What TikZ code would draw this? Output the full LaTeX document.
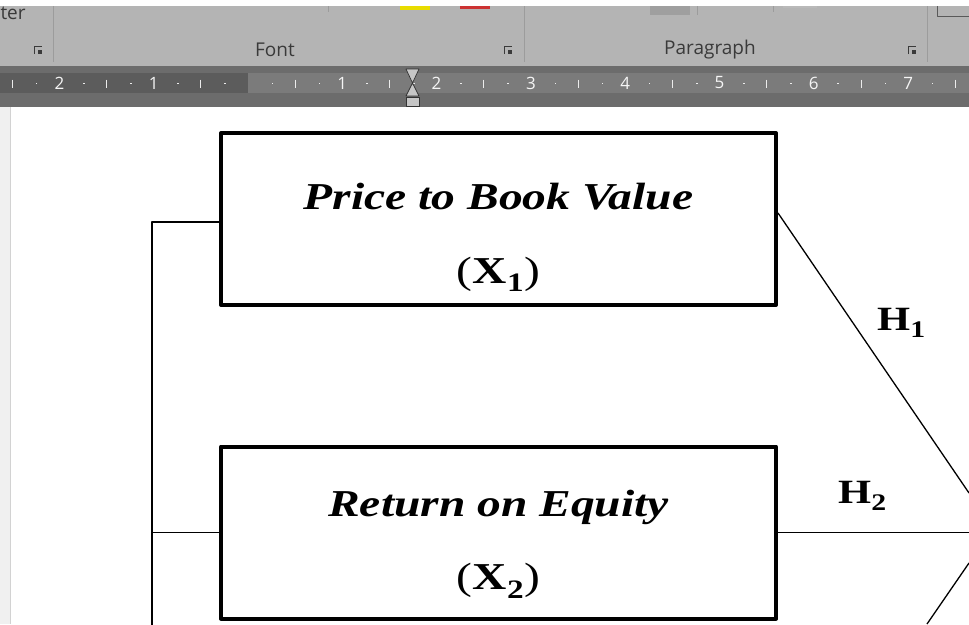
\documentclass[tikz,border=0pt]{standalone}
\usepackage{fontspec}
\setmainfont{Liberation Serif}
\newfontfamily\wideserif[FakeStretch=1.25]{Liberation Serif}
\newfontfamily\uifont{Open Sans}
\usetikzlibrary{calc}
\definecolor{ribbongray}{HTML}{B4B4B4}
\definecolor{rulerdark}{HTML}{5C5C5C}
\definecolor{rulerlight}{HTML}{7B7B7B}
\definecolor{rulerband}{HTML}{6C6C6C}
\definecolor{uitext}{HTML}{3A3A3A}
\definecolor{sepgray}{HTML}{9C9C9C}
\tikzset{
	varbox/.style={draw, line width=4pt, minimum width=555pt, minimum height=172pt, inner sep=0pt},
	varname/.style={font=\wideserif\fontsize{38}{42}\selectfont\bfseries\itshape, anchor=base},
	varsym/.style={font=\wideserif\fontsize{38}{42}\selectfont, anchor=base},
	hlabel/.style={font=\wideserif\fontsize{34}{38}\selectfont, anchor=base west, inner sep=0pt},
	link/.style={line width=1.3pt},
	grouplabel/.style={font=\uifont\fontsize{19}{22}\selectfont, text=uitext},
	rulernum/.style={font=\uifont\fontsize{17}{19}\selectfont, text=white!92!gray},
	launcher/.pic={\draw[uitext, line width=0.8pt] (-4,4) -- (-4,-4) -- (4,-4); \fill[uitext] (0,0) rectangle (4,4);}
}
\begin{document}
\begin{tikzpicture}[x=1pt, y=-1pt, line join=round]
	\useasboundingbox (0,0) rectangle (969,624);
	\clip (0,0) rectangle (969,624);
	\fill[ribbongray] (0,0) rectangle (969,66);
	\fill[white] (0,0) rectangle (969,6);
	\fill[yellow!80!olive] (400,6) rectangle (430,10);
	\fill[red!75!black!80] (460,6) rectangle (490,9);
	\fill[gray!75] (650,6) rectangle (690,15);
	\fill[gray!55] (783,6) rectangle (817,8);
	\draw[sepgray] (328,6) -- (328,12);
	\draw[sepgray] (697,6) -- (697,15);
	\draw[sepgray] (773,6) -- (773,12);
	\draw[gray!70!black, line width=0.8pt] (937,6) -- (937,16) -- (969,16);
	\draw[sepgray] (53,6) -- (53,62);
	\draw[sepgray] (524,6) -- (524,62);
	\draw[sepgray] (927,6) -- (927,62);
	\node[grouplabel, anchor=west] (tail) at (-3,13) {ter};
	\node[grouplabel] (fontgrp) at (275,50) {Font};
	\node[grouplabel] (paragrp) at (710,50) {Paragraph};
	\pic at (38,50) {launcher};
	\pic at (508,50) {launcher};
	\pic at (912,50) {launcher};
	\fill[rulerband] (0,66) rectangle (969,107);
	\fill[rulerdark] (0,73) rectangle (248,93);
	\fill[rulerlight] (248,73) rectangle (969,93);
	\foreach \k in {-3,...,7} {
		\pgfmathsetmacro\p{248+94.3*\k}
		\pgfmathtruncatemacro\n{abs(\k)}
		\ifnum\n>0 \ifnum\n<3 \node[rulernum] (num\k) at (\p,83) {\n}; \else \ifnum\k>0 \node[rulernum] (num\k) at (\p,83) {\n}; \fi\fi\fi
		\fill[white!85!gray] (\p+23.6,82.5) rectangle +(1.6,1.6);
		\fill[white!85!gray] (\p+70.7,82.5) rectangle +(1.6,1.6);
		\draw[white!85!gray, line width=1pt] (\p+47.2,79.5) -- (\p+47.2,87.5);
	}
	\draw[gray!40!black, fill=gray!45, line width=0.7pt] (406,69) -- (419,69) -- (412.5,83) -- cycle;
	\draw[gray!40!black, fill=gray!45, line width=0.7pt] (406,96) -- (419,96) -- (412.5,83) -- cycle;
	\draw[gray!40!black, fill=gray!45, line width=0.7pt] (406,97) rectangle (419,106);
	\fill[gray!12] (0,107) rectangle (10,624);
	\fill[white] (10,107) rectangle (969,624);
	\draw[gray!35] (10,107) -- (10,624);
	\node[varbox] (pbv) at (498.5,219) {};
	\node[varname] (pbvname) at ($(pbv.center)+(0,-10)$) {Price to Book Value};
	\node[varsym] (pbvsym) at ($(pbv.center)+(0,64)$) {(\textbf{X}\textsubscript{\textbf{1}})};
	\node[varbox] (roe) at (498.5,532.5) {};
	\node[varname] (roename) at ($(roe.center)+(0,-16)$) {Return on Equity};
	\node[varsym] (roesym) at ($(roe.center)+(0,57)$) {(\textbf{X}\textsubscript{\textbf{2}})};
	\coordinate (bustop) at (152,222);
	\coordinate (busbot) at (152,640);
	\coordinate (yin1) at (969,493);
	\coordinate (yin3) at (969,563);
	\coordinate (x3out) at (927,624);
	\draw[link] (pbv.west |- bustop) -- (bustop) -- (busbot);
	\draw[link] (roe.west) -- (roe.west -| bustop);
	\draw[link] ($(pbv.east)+(0,-6)$) -- (yin1);
	\draw[link] (roe.east) -- (roe.east -| yin1);
	\draw[link] (yin3) -- (x3out);
	\node[hlabel] (h1lab) at (877,330) {\textbf{H}\textsubscript{\textbf{1}}};
	\node[hlabel] (h2lab) at (838,503) {\textbf{H}\textsubscript{\textbf{2}}};
\end{tikzpicture}
\end{document}
